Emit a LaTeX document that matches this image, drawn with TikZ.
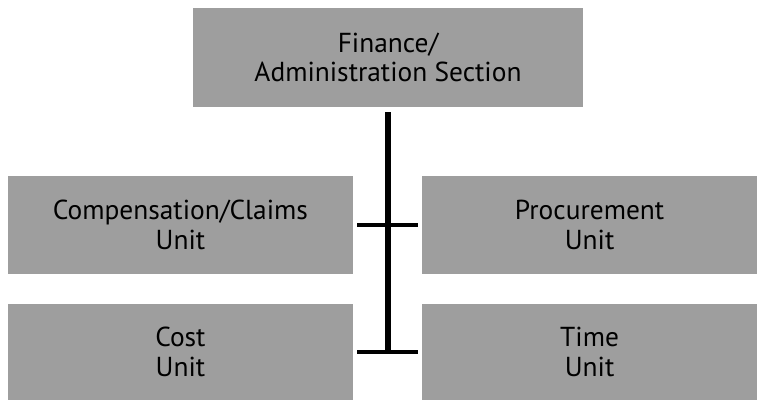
\documentclass[tikz,border=0pt]{standalone}
\usepackage{fontspec}
\setmainfont{PT Sans}
\usepackage{tikz}

\begin{document}
\begin{tikzpicture}[
    unitbox/.style={fill=black!38, inner sep=0pt, align=center,
        font=\fontsize{19.5}{21}\selectfont},
    bar/.style={line width=3.4pt}
]
    \useasboundingbox (0, 0) rectangle (18.925, -10);

    \node[unitbox, minimum width=9.75cm, minimum height=2.475cm] (fin) at (9.7, -1.44)
        {Finance/\\Administration Section};

    \node[unitbox, minimum width=8.625cm, minimum height=2.45cm] (comp) at (4.51, -5.625)
        {Compensation/Claims\\Unit};
    \node[unitbox, minimum width=8.375cm, minimum height=2.45cm] (proc) at (14.74, -5.625)
        {Procurement\\Unit};
    \node[unitbox, minimum width=8.625cm, minimum height=2.4cm] (cost) at (4.51, -8.8)
        {Cost\\Unit};
    \node[unitbox, minimum width=8.375cm, minimum height=2.4cm] (time) at (14.74, -8.8)
        {Time\\Unit};

    \coordinate (joint) at (fin.south |- cost.east);

    \draw[bar, line width=4pt, shorten <=0.12cm] (fin.south) -- (joint);
    \draw[bar, shorten <=0.1cm, shorten >=0.1cm] (comp.east) -- (proc.west);
    \draw[bar, shorten <=0.1cm, shorten >=0.1cm] (cost.east) -- (time.west);
\end{tikzpicture}
\end{document}
